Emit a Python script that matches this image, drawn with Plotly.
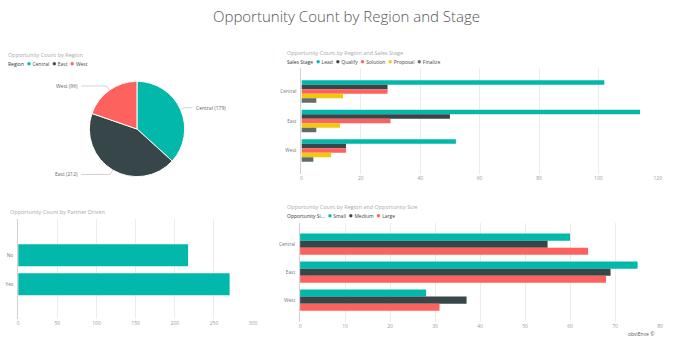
import math
import plotly.graph_objects as go

W, H = 674, 345

# ---------------- data ----------------
regions = ["Central", "East", "West"]
region_counts = [179, 212, 96]
region_colors = ["#01B8AA", "#374649", "#FD625E"]

stages = ["Lead", "Qualify", "Solution", "Proposal", "Finalize"]
stage_colors = ["#01B8AA", "#374649", "#FD625E", "#F2C80F", "#5F6B6D"]
lead = [102, 114, 52]
qualify = [29, 50, 15]
solution = [29, 30, 15]
proposal = [14, 13, 10]
finalize = [5, 5, 4]
stage_series = [lead, qualify, solution, proposal, finalize]

partner = ["No", "Yes"]
partner_counts = [217, 270]

sizes = ["Small", "Medium", "Large"]
size_colors = ["#01B8AA", "#374649", "#FD625E"]
small = [60, 75, 28]
medium = [55, 69, 37]
large = [64, 68, 31]
size_series = [small, medium, large]

stage_ticks = [0, 20, 40, 60, 80, 100, 120]
partner_ticks = [0, 50, 100, 150, 200, 250, 300]
size_ticks = [0, 10, 20, 30, 40, 50, 60, 70, 80]

FONT = "Open Sans"


def px(x):
    return x / W


def py(y):
    return 1 - y / H


fig = go.Figure()

# ---------------- pie ----------------
pie_box = (89, 81, 185, 177)  # left, top, right, bottom in px
fig.add_trace(go.Pie(
    labels=regions, values=region_counts, sort=False, direction="clockwise",
    rotation=0, textinfo="none", hole=0,
    marker=dict(colors=region_colors, line=dict(color="white", width=1)),
    domain=dict(x=[px(pie_box[0]), px(pie_box[2])], y=[py(pie_box[3]), py(pie_box[1])]),
    showlegend=False,
))

cx = (pie_box[0] + pie_box[2]) / 2
cy = (pie_box[1] + pie_box[3]) / 2
r = (pie_box[2] - pie_box[0]) / 2
total = sum(region_counts)
cum = 0
shapes = []
annotations = []
for name, val in zip(regions, region_counts):
    mid = (cum + val / 2) / total * 2 * math.pi
    cum += val
    dx, dy = math.sin(mid), -math.cos(mid)
    x0, y0 = cx + dx * r, cy + dy * r
    x1, y1 = cx + dx * r * 1.1, cy + dy * r * 1.1
    right = dx > 0
    x2 = cx + (56 if right else -56)
    path = f"M {px(x0)},{py(y0)} L {px(x1)},{py(y1)} L {px(x2)},{py(y1)}"
    shapes.append(dict(type="path", xref="paper", yref="paper", path=path,
                       line=dict(color="#c8c8c8", width=0.8)))
    annotations.append(dict(
        x=px(x2 + (1.5 if right else -1.5)), y=py(y1), xref="paper", yref="paper",
        text=f"{name} ({val})", showarrow=False,
        xanchor="left" if right else "right", yanchor="middle",
        font=dict(size=5, color="#666", family=FONT)))

# ---------------- bars: region & stage ----------------
for name, vals, col in zip(stages, stage_series, stage_colors):
    fig.add_trace(go.Bar(y=regions, x=vals, name=name, orientation="h",
                         marker=dict(color=col, line=dict(width=0)),
                         xaxis="x", yaxis="y", showlegend=False))

# ---------------- bars: partner ----------------
fig.add_trace(go.Bar(y=partner, x=partner_counts, orientation="h",
                     marker=dict(color="#01B8AA", line=dict(width=0)),
                     xaxis="x2", yaxis="y2", showlegend=False))

# ---------------- bars: size ----------------
for name, vals, col in zip(sizes, size_series, size_colors):
    fig.add_trace(go.Bar(y=regions, x=vals, name=name, orientation="h",
                         marker=dict(color=col, line=dict(width=0)),
                         xaxis="x3", yaxis="y3", showlegend=False))

xcommon = dict(showgrid=True, gridcolor="#ececec", gridwidth=1, zeroline=False,
               showline=False, ticks="", tickfont=dict(size=5, color="#9a9a9a", family=FONT),
               fixedrange=True)
ycommon = dict(type="category", showgrid=False, zeroline=False, showline=True,
               linecolor="#d2d2d2", linewidth=1, ticks="",
               tickfont=dict(size=4.8, color="#777", family=FONT), fixedrange=True,
               ticklabelstandoff=3)

fig.update_layout(
    width=W, height=H, autosize=False,
    margin=dict(l=0, r=0, t=0, b=0),
    paper_bgcolor="white", plot_bgcolor="white",
    barmode="group", bargap=0.24, bargroupgap=0,
    xaxis=dict(xcommon, domain=[px(302.7), px(661.7)], range=[0, 120],
               tickvals=stage_ticks, anchor="y"),
    yaxis=dict(ycommon, domain=[py(174), py(68)], range=[2.8, -0.8], anchor="x"),
    xaxis2=dict(xcommon, domain=[px(17.3), px(254)], range=[0, 300],
                tickvals=partner_ticks, anchor="y2"),
    yaxis2=dict(ycommon, domain=[py(319), py(219)], range=[2.2, -1.25], anchor="x2"),
    xaxis3=dict(xcommon, domain=[px(301.3), px(664)], range=[0, 80],
                tickvals=size_ticks, anchor="y3"),
    yaxis3=dict(ycommon, domain=[py(321.7), py(222.7)], range=[2.77, -0.77], anchor="x3"),
    font=dict(family=FONT),
)


def legend_text(title, names, colors):
    parts = [f'<span style="color:#333">{title}</span>']
    for n, c in zip(names, colors):
        parts.append(f'<span style="color:{c};font-size:7.5px">●</span> '
                     f'<span style="color:#444">{n}</span>')
    return "  ".join(parts)


def add_text(x, y, text, size, color, anchor="left", weight=None):
    f = dict(size=size, color=color, family=FONT)
    if weight:
        f["weight"] = weight
    annotations.append(dict(x=px(x), y=py(y), xref="paper", yref="paper", text=text,
                            showarrow=False, xanchor=anchor, yanchor="middle", font=f))


add_text(348.5, 16, "Opportunity Count by Region and Stage", 15, "#555", anchor="center", weight=300)

add_text(5, 55, "Opportunity Count by Region", 5.5, "#aaa")
add_text(5, 63, legend_text("Region", regions, region_colors), 5, "#333")

add_text(286, 52.7, "Opportunity Count by Region and Sales Stage", 5.5, "#aaa")
add_text(286, 60.7, legend_text("Sales Stage", stages, stage_colors), 5, "#333")

add_text(7, 211.7, "Opportunity Count by Partner Driven", 5.5, "#aaa")

add_text(286, 206.7, "Opportunity Count by Region and Opportunity Size", 5.5, "#aaa")
add_text(286, 215, legend_text("Opportunity Si...", sizes, size_colors), 5, "#333")

add_text(660, 334, "obviEnce ©", 5, "#555", anchor="right")

fig.update_layout(annotations=annotations, shapes=shapes)

fig.write_html("out.html")
